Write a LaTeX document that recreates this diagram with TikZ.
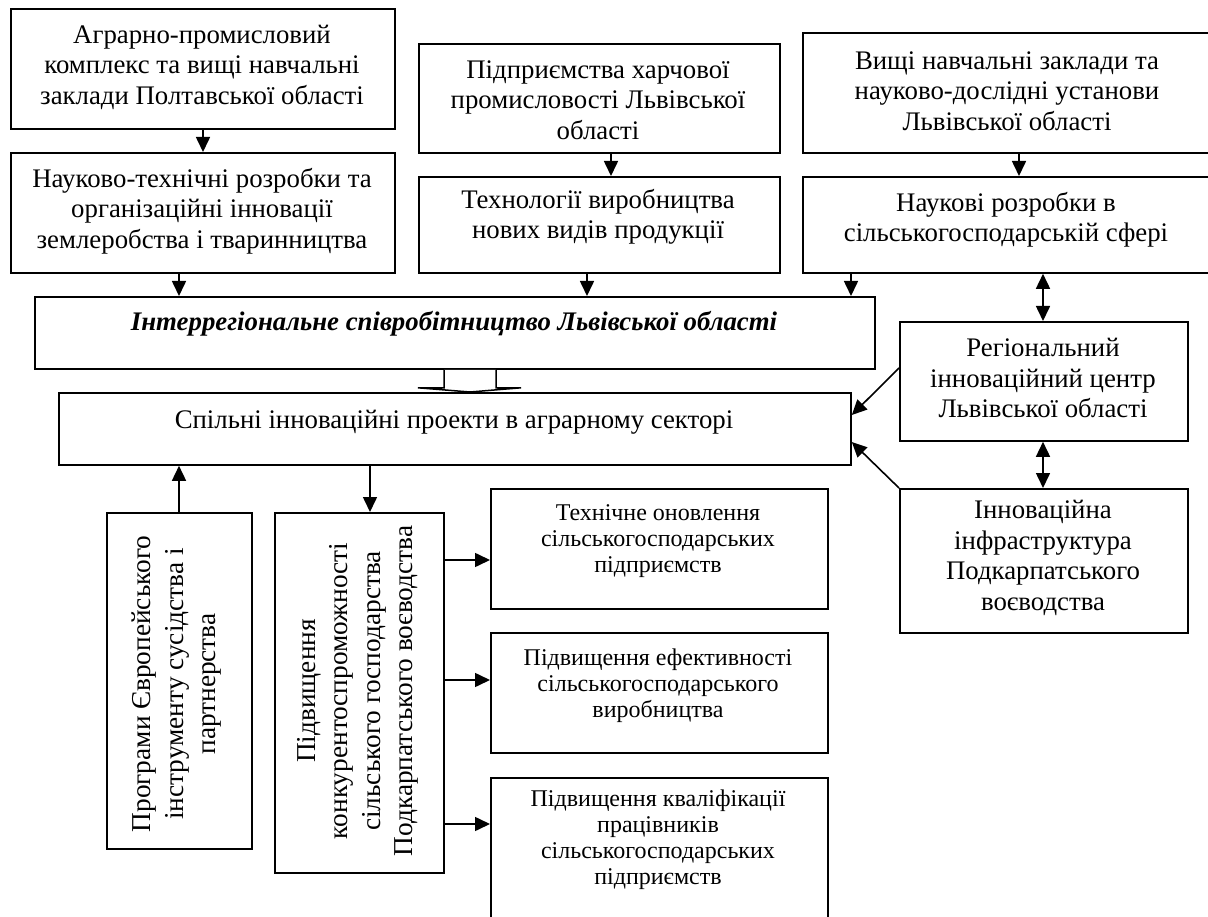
\documentclass[tikz,border=0pt]{standalone}
\usepackage{fontspec}
\setmainfont{Liberation Serif}
\usetikzlibrary{arrows.meta,calc}
\tikzset{
  bx/.style={draw, line width=1.8pt, inner sep=0pt, anchor=north west},
  tx/.style={align=center, inner sep=0pt, font=\fontsize{26.8}{30.5}\selectfont},
  txr/.style={align=center, inner sep=0pt, rotate=90, font=\fontsize{27.3}{32.5}\selectfont},
  txs/.style={align=center, inner sep=0pt, font=\fontsize{24}{26}\selectfont},
  arr/.style={line width=1.6pt, -{Triangle[length=15pt,width=14pt]}},
  darr/.style={line width=1.6pt, {Triangle[length=15pt,width=14pt]}-{Triangle[length=15pt,width=14pt]}},
}
\begin{document}
\begin{tikzpicture}[x=1pt,y=-1pt]
\useasboundingbox (0,0) rectangle (1208,917);
% boxes
\node[bx, minimum width=384pt, minimum height=120pt] (A) at (10,8) {};
\node[bx, minimum width=384pt, minimum height=120pt] (A2) at (10,152) {};
\node[bx, minimum width=361pt, minimum height=109pt] (B) at (418,43) {};
\node[bx, minimum width=361pt, minimum height=96pt] (B2) at (418,176) {};
\node[bx, minimum width=413pt, minimum height=120pt] (C) at (802,32) {};
\node[bx, minimum width=413pt, minimum height=96pt] (C2) at (802,176) {};
\node[bx, minimum width=840pt, minimum height=72pt] (I) at (34,296) {};
\node[bx, minimum width=792pt, minimum height=72pt] (S) at (58,392) {};
\node[bx, minimum width=288pt, minimum height=119pt] (R) at (899,321) {};
\node[bx, minimum width=288pt, minimum height=144pt] (Inf) at (899,488) {};
\node[bx, minimum width=145pt, minimum height=336pt] (P) at (106,512) {};
\node[bx, minimum width=169pt, minimum height=360pt] (K) at (274,512) {};
\node[bx, minimum width=337pt, minimum height=120pt] (T1) at (490,488) {};
\node[bx, minimum width=337pt, minimum height=120pt] (T2) at (490,632) {};
\node[bx, minimum width=337pt, minimum height=160pt] (T3) at (490,777) {};
% texts
\node[tx] (At) at (202,67) {Аграрно-промисловий\\комплекс та вищі навчальні\\заклади Полтавської області};
\node[tx] (A2t) at (202,211) {Науково-технічні розробки та\\організаційні інновації\\землеробства і тваринництва};
\node[tx] (Bt) at (598,100) {Підприємства харчової\\промисловості Львівської\\області};
\node[tx] (B2t) at (598,217) {Технології виробництва\\нових видів продукції};
\node[tx] (Ct) at (1007,91) {Вищі навчальні заклади та\\науково-дослідні установи\\Львівської області};
\node[tx] (C2t) at (1006,220) {Наукові розробки в\\сільськогосподарській сфері};
\node[tx, font=\fontsize{26.8}{30.5}\selectfont\bfseries\itshape] (It) at (454,324) {Інтеррегіональне співробітництво Львівської області};
\node[tx] (St) at (454,422) {Спільні інноваційні проекти в аграрному секторі};
\node[tx] (Rt) at (1043,378) {Регіональний\\інноваційний центр\\Львівської області};
\node[tx] (Inft) at (1043,558) {Інноваційна\\інфраструктура\\Подкарпатського\\воєводства};
\node[txr] (Pt) at (177,684) {Програми Європейського\\інструменту сусідства і\\партнерства};
\node[txr] (Kt) at (358,691) {Підвищення\\конкурентоспроможності\\сільського господарства\\Подкарпатського воєводства};
\node[txs] (T1t) at (658,541) {Технічне оновлення\\сільськогосподарських\\підприємств};
\node[txs] (T2t) at (658,686) {Підвищення ефективності\\сільськогосподарського\\виробництва};
\node[txs] (T3t) at (658,840) {Підвищення кваліфікації\\працівників\\сільськогосподарських\\підприємств};
% helper coordinates
\coordinate (xa) at (203,0);
\coordinate (xb) at (611,0);
\coordinate (xc) at (1019,0);
\coordinate (xa2) at (179,0);
\coordinate (xb2) at (587,0);
\coordinate (xc2) at (851,0);
\coordinate (xr) at (1043,0);
\coordinate (xk) at (370,0);
\coordinate (y1) at (0,560);
\coordinate (y2) at (0,680);
\coordinate (y3) at (0,824);
% connectors
\draw[arr] (A.south -| xa) -- (A2.north -| xa);
\draw[arr] (B.south -| xb) -- (B2.north -| xb);
\draw[arr] (C.south -| xc) -- (C2.north -| xc);
\draw[arr] (A2.south -| xa2) -- (I.north -| xa2);
\draw[arr] (B2.south -| xb2) -- (I.north -| xb2);
\draw[arr] (C2.south -| xc2) -- (I.north -| xc2);
\draw[darr] (C2.south -| xr) -- (R.north -| xr);
\draw[darr] (R.south -| xr) -- (Inf.north -| xr);
\draw[arr] ($(R.north west)+(0,47)$) -- ($(S.north east)+(0,23)$);
\draw[arr] (Inf.north west) -- ($(S.north east)+(0,50)$);
\draw[arr] (P.north -| xa2) -- (S.south -| xa2);
\draw[arr] (S.south -| xk) -- (K.north -| xk);
\draw[arr] (K.east |- y1) -- (T1.west |- y1);
\draw[arr] (K.east |- y2) -- (T2.west |- y2);
\draw[arr] (K.east |- y3) -- (T3.west |- y3);
% hollow block arrow
\draw[line width=1.5pt, fill=white, line join=miter]
  ($(I.south west)+(410,0)$) -- ++(0,18) -- ++(-26,0) -- ($(S.north west)+(412,0)$)
  -- ($(I.south west)+(487,18)$) -- ++(-25,0) -- ++(0,-18);
\end{tikzpicture}
\end{document}
